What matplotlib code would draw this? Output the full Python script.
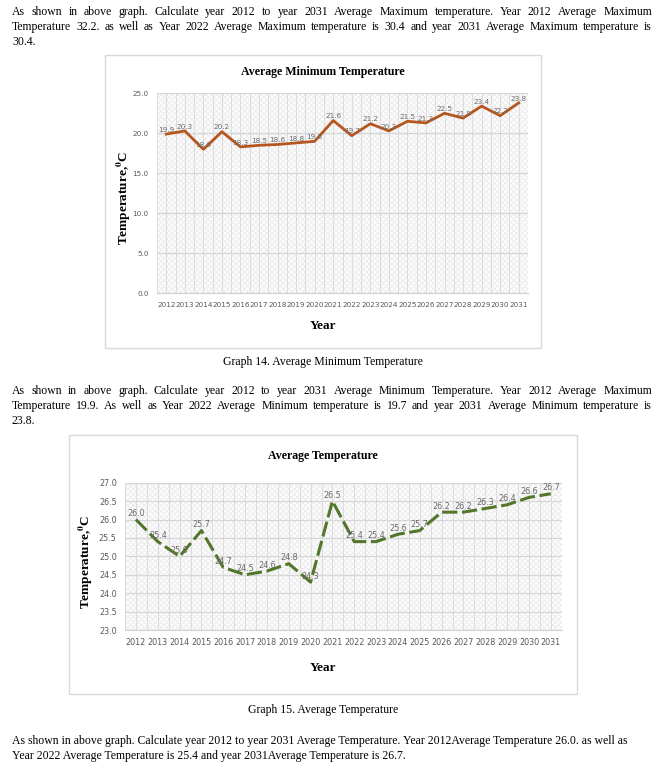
import matplotlib
matplotlib.use("Agg")
import matplotlib.pyplot as plt
from matplotlib.patches import Rectangle
import numpy as np

W, H = 664, 771

years = [str(y) for y in range(2012, 2032)]
min_temp = [19.9, 20.3, 18.0, 20.2, 18.3, 18.5, 18.6, 18.8, 19.0, 21.6,
            19.7, 21.2, 20.3, 21.5, 21.3, 22.5, 21.9, 23.4, 22.2, 23.8]
avg_temp = [26.0, 25.4, 25.0, 25.7, 24.7, 24.5, 24.6, 24.8, 24.3, 26.5,
            25.4, 25.4, 25.6, 25.7, 26.2, 26.2, 26.3, 26.4, 26.6, 26.7]

para1 = ["As shown in above graph. Calculate year 2012 to year 2031 Average Maximum temperature. Year 2012 Average Maximum",
         "Temperature 32.2. as well as Year 2022 Average Maximum temperature is 30.4 and year 2031 Average Maximum temperature is",
         "30.4."]
para2 = ["As shown in above graph. Calculate year 2012 to year 2031 Average Minimum Temperature. Year 2012 Average Maximum",
         "Temperature 19.9. As well as Year 2022 Average Minimum temperature is 19.7 and year 2031 Average Minimum temperature is",
         "23.8."]
para3 = ["As shown in above graph. Calculate year 2012 to year 2031 Average Temperature. Year 2012Average Temperature 26.0. as well as",
         "Year 2022 Average Temperature is 25.4 and year 2031Average Temperature is 26.7."]

plt.rcParams["mathtext.fontset"] = "stix"
SERIF = "Liberation Serif"
TXT = 8.5

fig = plt.figure(figsize=(W / 100, H / 100), dpi=100)
fig.patch.set_facecolor("white")
renderer = fig.canvas.get_renderer()


def fx(px):
    return px / W


def fy(py):
    return 1 - py / H


def paragraph(lines, y0, justify=True, x0=12, x1=652, step=15):
    for i, line in enumerate(lines):
        y = fy(y0 + i * step)
        last = i == len(lines) - 1
        if not justify or last:
            fig.text(fx(x0), y, line, family=SERIF, size=TXT, va="center")
            continue
        words = line.split()
        objs = [fig.text(0, y, w, family=SERIF, size=TXT, va="center") for w in words]
        widths = [o.get_window_extent(renderer).width for o in objs]
        gap = (x1 - x0 - sum(widths)) / (len(words) - 1)
        x = x0
        for o, w in zip(objs, widths):
            o.set_x(fx(x))
            x += w + gap


def box(x0, y0, x1, y1):
    fig.patches.append(Rectangle((fx(x0), fy(y1)), fx(x1) - fx(x0), fy(y0) - fy(y1),
                                 transform=fig.transFigure, fill=False,
                                 edgecolor="#d9d9d9", linewidth=1.0))


def chart(rect, values, ylim, yticks, color, dashes, lw, title, title_xy, ylabel_x, xlab_y, tick_size):
    l, t, r, b = rect
    ax = fig.add_axes([fx(l), fy(b), fx(r) - fx(l), fy(t) - fy(b)])
    x = np.arange(len(values))
    ax.add_patch(Rectangle((0, 0), 1, 1, transform=ax.transAxes, facecolor="white",
                           hatch="xxxxxx", edgecolor="#efefef", linewidth=0, zorder=0))
    for v in np.arange(-0.5, len(values), 0.5):
        ax.axvline(v, color="#dcdcdc", lw=0.7, zorder=1)
    for v in yticks:
        ax.axhline(v, color="#d6d6d6", lw=0.9, zorder=1)
    line, = ax.plot(x, values, color=color, lw=lw, zorder=3)
    if dashes:
        line.set_dashes(dashes)
    for i, v in enumerate(values):
        ax.annotate(f"{v:.1f}", (i, v), xytext=(0, 1), textcoords="offset points",
                    ha="center", va="bottom", fontsize=tick_size, color="#6b6b6b", zorder=4)
    ax.set_xlim(-0.5, len(values) - 0.5)
    ax.set_ylim(*ylim)
    ax.set_xticks(x)
    ax.set_xticklabels(years)
    ax.set_yticks(yticks)
    ax.set_yticklabels([f"{v:.1f}" for v in yticks])
    ax.tick_params(length=0, labelsize=tick_size, colors="#595959", pad=6)
    for s in ax.spines.values():
        s.set_visible(False)
    ax.spines["bottom"].set_visible(True)
    ax.spines["bottom"].set_color("#d0d0d0")
    fig.text(fx(title_xy[0]), fy(title_xy[1]), title, family=SERIF, weight="bold",
             size=8.6, ha="center", va="center")
    fig.text(fx(title_xy[0]), fy(xlab_y), "Year", family=SERIF, weight="bold",
             size=9.5, ha="center", va="center")
    fig.text(fx(ylabel_x), fy((t + b) / 2 + 5), r"Temperature,$^{\mathbf{0}}$C", family=SERIF,
             weight="bold", size=9.5, rotation=90, ha="center", va="center")
    return ax


# top text
paragraph(para1, 12)

# graph 14
box(105, 55, 541, 348)
chart((157, 93.3, 528, 293.3), min_temp, (0, 25), [0, 5, 10, 15, 20, 25],
      "#b5561f", None, 2.0, "Average Minimum Temperature", (323, 72), 124, 326, 5.2)
fig.text(fx(323), fy(362), "Graph 14. Average Minimum Temperature", family=SERIF,
         size=TXT, ha="center", va="center")

paragraph(para2, 391)

# graph 15
box(69, 435, 577, 694)
chart((125, 482.7, 561.7, 630), avg_temp, (23, 27), list(np.arange(23, 27.01, 0.5)),
      "#52762a", (5, 1.5), 2.2, "Average Temperature", (323, 456), 86, 668, 5.8)
fig.text(fx(323), fy(710), "Graph 15. Average Temperature", family=SERIF,
         size=TXT, ha="center", va="center")

paragraph(para3, 741, justify=False)

fig.savefig("out.png", dpi=100)
